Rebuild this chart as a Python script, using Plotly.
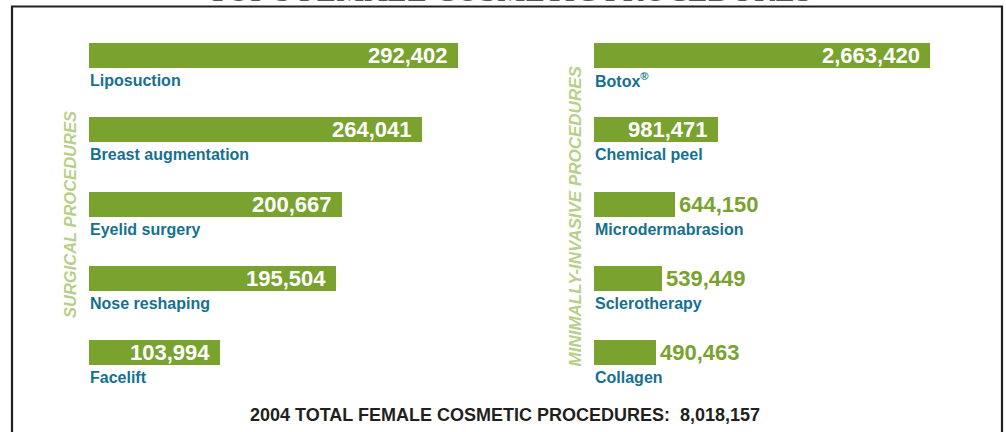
import plotly.graph_objects as go

# ---------------- data ----------------
surgical_names = ["Liposuction", "Breast augmentation", "Eyelid surgery", "Nose reshaping", "Facelift"]
surgical_values = [292402, 264041, 200667, 195504, 103994]

minimal_names = ["Botox<sup>®</sup>", "Chemical peel", "Microdermabrasion", "Sclerotherapy", "Collagen"]
minimal_values = [2663420, 981471, 644150, 539449, 490463]
minimal_inside = [True, True, False, False, False]

title_text = "TOP 5 FEMALE COSMETIC PROCEDURES"
left_group = "SURGICAL PROCEDURES"
right_group = "MINIMALLY-INVASIVE PROCEDURES"
total_label = "2004 TOTAL FEMALE COSMETIC PROCEDURES:\u00a0\u00a08,018,157"

# ---------------- styles ----------------
W, H = 1006, 432
GREEN = "#79a22f"
TEAL = "#16708f"
LIGHT_GREEN = "#b8cf8a"
DARK = "#231f20"
SANS = "Liberation Sans, Arial, sans-serif"

row_px = 74.4
row0_px = 55.3
bar_px = 25
y_top = -row0_px / row_px
y_bottom = y_top + H / row_px

l_x0, l_x1, l_len = 89, 560, 369
r_x0, r_x1, r_len = 594, 1000, 336

rows = list(range(5))

fig = go.Figure()
fig.add_trace(go.Bar(
    x=surgical_values, y=rows, orientation="h", xaxis="x", yaxis="y",
    marker=dict(color=GREEN, line=dict(width=0)), width=bar_px / row_px,
    hoverinfo="skip", showlegend=False,
))
fig.add_trace(go.Bar(
    x=minimal_values, y=rows, orientation="h", xaxis="x2", yaxis="y",
    marker=dict(color=GREEN, line=dict(width=0)), width=bar_px / row_px,
    hoverinfo="skip", showlegend=False,
))

annotations = []
label_off = 25 / row_px
label_font = dict(family=SANS, size=16, color=TEAL, weight="bold")
for i, (n, v) in enumerate(zip(surgical_names, surgical_values)):
    annotations.append(dict(x=0, y=i + label_off, xref="x", yref="y", text=n, showarrow=False,
                            xanchor="left", yanchor="middle", xshift=-1, font=label_font))
    annotations.append(dict(x=v, y=i, xref="x", yref="y", text=f"{v:,}", showarrow=False,
                            xanchor="right", yanchor="middle", xshift=-8,
                            font=dict(family=SANS, size=22, color="white", weight="bold")))
for i, (n, v, ins) in enumerate(zip(minimal_names, minimal_values, minimal_inside)):
    annotations.append(dict(x=0, y=i + label_off, xref="x2", yref="y", text=n, showarrow=False,
                            xanchor="left", yanchor="middle", xshift=-1, font=label_font))
    annotations.append(dict(x=v, y=i, xref="x2", yref="y", text=f"{v:,}", showarrow=False,
                            xanchor="right" if ins else "left", yanchor="middle",
                            xshift=-8 if ins else 2,
                            font=dict(family=SANS, size=22, color="white" if ins else GREEN, weight="bold")))

annotations.append(dict(x=70 / W, y=1 - 215 / H, xref="paper", yref="paper", text=left_group,
                        showarrow=False, textangle=-90, xanchor="center", yanchor="middle",
                        font=dict(family=SANS, size=16.5, color=LIGHT_GREEN, weight="bold", style="italic")))
annotations.append(dict(x=575 / W, y=1 - 216.5 / H, xref="paper", yref="paper", text=right_group,
                        showarrow=False, textangle=-90, xanchor="center", yanchor="middle",
                        font=dict(family=SANS, size=17, color=LIGHT_GREEN, weight="bold", style="italic")))
annotations.append(dict(x=504.5 / W, y=1 - 414.5 / H, xref="paper", yref="paper", text=total_label,
                        showarrow=False, xanchor="center", yanchor="middle",
                        font=dict(family=SANS, size=18, color=DARK, weight="bold")))
annotations.append(dict(x=510 / W, y=1 - 10.5 / H, xref="paper", yref="paper", text=title_text,
                        showarrow=False, xanchor="center", yanchor="bottom",
                        font=dict(family="Liberation Serif, Times New Roman, serif", size=32, color="#555555")))

shapes = [dict(type="path", xref="paper", yref="paper",
               path=f"M {12/W},-0.1 L {12/W},{1-6.5/H} L {1002/W},{1-6.5/H} L {1002/W},-0.1",
               line=dict(color=DARK, width=2.2), layer="above")]

fig.update_layout(
    width=W, height=H,
    margin=dict(l=0, r=0, t=0, b=0),
    paper_bgcolor="white", plot_bgcolor="white",
    xaxis=dict(domain=[l_x0 / W, l_x1 / W], range=[0, surgical_values[0] * (l_x1 - l_x0) / l_len],
               visible=False, fixedrange=True),
    xaxis2=dict(domain=[r_x0 / W, r_x1 / W], range=[0, minimal_values[0] * (r_x1 - r_x0) / r_len],
                visible=False, fixedrange=True, anchor="y"),
    yaxis=dict(range=[y_bottom, y_top], visible=False, fixedrange=True),
    annotations=annotations,
    shapes=shapes,
    bargap=0,
)

fig.write_html("out.html", config={"displayModeBar": False},
               post_script="document.body.style.margin='0';document.body.style.overflow='hidden';")
